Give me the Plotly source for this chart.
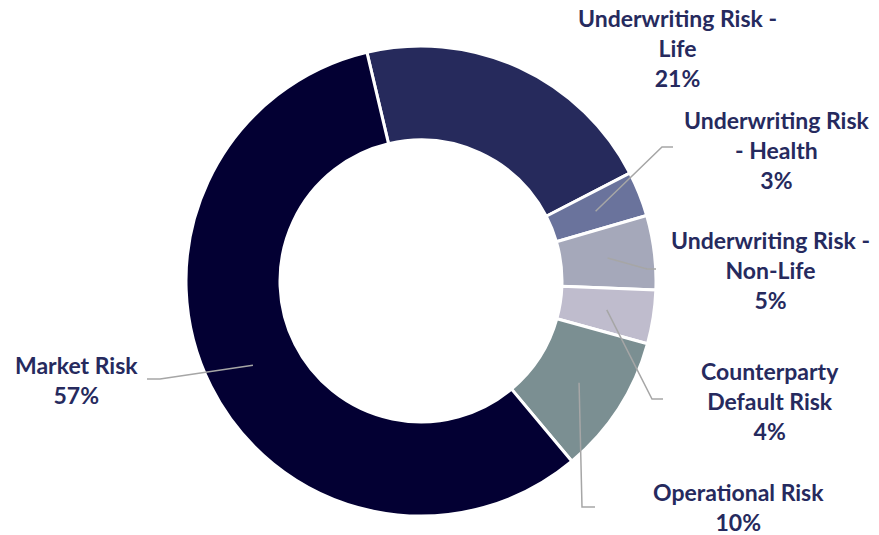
import math
import plotly.graph_objects as go

# ---- data ----
categories = ["Underwriting Risk - Life", "Underwriting Risk - Health", "Underwriting Risk - Non-Life",
              "Counterparty Default Risk", "Operational Risk", "Market Risk"]
values = [21.1, 3.1, 5.1, 3.7, 9.6, 57.4]
label_names = [
    ["Underwriting Risk -", "Life"],
    ["Underwriting Risk", "- Health"],
    ["Underwriting Risk -", "Non-Life"],
    ["Counterparty", "Default Risk"],
    ["Operational Risk"],
    ["Market Risk"],
]
colors = ["#262a5c", "#6a739c", "#a5a8ba", "#bfbccd", "#7b8f92", "#030033"]

# ---- layout ----
W, H = 879, 535
CX, CY, R = 421, 281, 235
HOLE = 0.60
ROT = -13.3
TEXT_COLOR = "#262a5e"
FONT = "Lato"

# label centers (px) and leader-line elbow/end (px) per slice
label_pos = [(677, 48), (777, 150), (770, 270), (770, 401), (738, 507), (76, 380)]
leader = [None, [(662, 147), (673, 147)], [(647, 269), (656, 269)],
          [(652, 399), (663, 399)], [(582, 507), (595, 507)], [(160, 379), (147, 379)]]

fig = go.Figure(go.Pie(
    labels=categories, values=values, sort=False, direction="clockwise",
    rotation=ROT, hole=HOLE, textinfo="none", hoverinfo="label+percent",
    marker=dict(colors=colors, line=dict(color="white", width=3)),
    domain=dict(x=[(CX - R) / W, (CX + R) / W], y=[(H - CY - R) / H, (H - CY + R) / H]),
    showlegend=False,
))

def px2paper(x, y):
    return x / W, 1 - y / H

total = sum(values)
cum = 0
shapes = []
annotations = []
for i, v in enumerate(values):
    mid = ROT + 360 * (cum + v / 2) / total
    cum += v
    rmid = R * (1 + HOLE) / 2
    sx = CX + rmid * math.sin(math.radians(mid))
    sy = CY - rmid * math.cos(math.radians(mid))
    if leader[i]:
        pts = [(sx, sy)] + leader[i]
        path = "M " + " L ".join(f"{px2paper(x, y)[0]},{px2paper(x, y)[1]}" for x, y in pts)
        shapes.append(dict(type="path", xref="paper", yref="paper", path=path,
                           line=dict(color="#a6a6a6", width=1.5)))
    lx, ly = label_pos[i]
    px, py = px2paper(lx, ly)
    pct = f"{round(100 * v / total)}%"
    annotations.append(dict(
        x=px, y=py, xref="paper", yref="paper", showarrow=False,
        text="<br>".join(label_names[i] + [pct]), align="center",
        xanchor="center", yanchor="middle",
        font=dict(family=FONT, size=23, color=TEXT_COLOR, weight="bold"),
    ))

fig.update_layout(
    width=W, height=H, margin=dict(l=0, r=0, t=0, b=0),
    paper_bgcolor="white", plot_bgcolor="white",
    shapes=shapes, annotations=annotations,
)
fig.write_html("out.html", config={"displayModeBar": False},
               post_script="document.body.style.margin='0px';")
